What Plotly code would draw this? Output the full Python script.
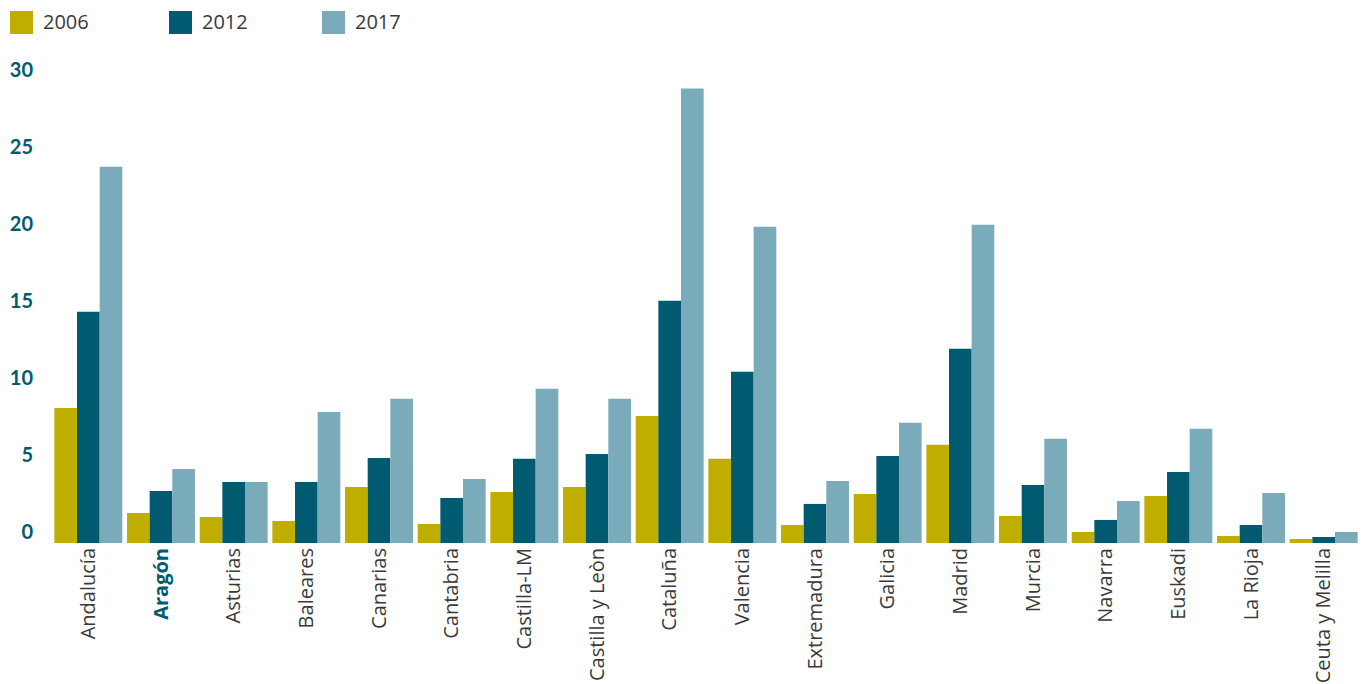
import plotly.graph_objects as go

regions = ["Andalucía", "Aragón", "Asturias", "Baleares", "Canarias", "Cantabria",
           "Castilla-LM", "Castilla y Leòn", "Cataluña", "Valencia", "Extremadura",
           "Galicia", "Madrid", "Murcia", "Navarra", "Euskadi", "La Rioja", "Ceuta y Melilla"]

years = ["2006", "2012", "2017"]

v2006 = [8.78, 1.95, 1.69, 1.43, 3.64, 1.24, 3.32, 3.64, 8.26, 5.47, 1.17, 3.19, 6.38, 1.76, 0.72, 3.06, 0.46, 0.26]
v2012 = [15.03, 3.38, 3.97, 3.97, 5.53, 2.93, 5.47, 5.79, 15.75, 11.13, 2.54, 5.66, 12.62, 3.77, 1.50, 4.62, 1.17, 0.39]
v2017 = [24.46, 4.81, 3.97, 8.52, 9.37, 4.16, 10.02, 9.37, 29.54, 20.56, 4.03, 7.81, 20.69, 6.77, 2.73, 7.42, 3.25, 0.72]

y_ticks = [0, 5, 10, 15, 20, 25, 30]

colors = ["#bfae00", "#005b70", "#7aabba"]
teal = "#005b70"
grey = "#3a3a3a"
FONT = "Lato"
XFONT = "Open Sans"

# page body has an 8px margin, so the figure is drawn 8px lower/right
OFF = 8
W, H = 1368 - OFF, 684 - OFF
ML, MR, MT, MB = 44, 8, 58, 141
PW, PH = W - ML - MR, H - MT - MB

fig = go.Figure()
for name, vals, col in zip(years, [v2006, v2012, v2017], colors):
    fig.add_trace(go.Bar(x=regions, y=vals, name=name, marker=dict(color=col, line=dict(width=0)),
                         showlegend=False))

ticktext = []
for r in regions:
    if r == "Aragón":
        ticktext.append("<b><span style='color:%s'>%s</span></b>" % (teal, r))
    else:
        ticktext.append(r)

fig.update_layout(
    width=W, height=H,
    margin=dict(l=ML, r=MR, t=MT, b=MB, autoexpand=False),
    paper_bgcolor="white", plot_bgcolor="white",
    barmode="group", bargap=0.065, bargroupgap=0,
    font=dict(family=XFONT, size=20, color=grey),
    xaxis=dict(tickmode="array", tickvals=regions, ticktext=ticktext, tickangle=-90,
               showgrid=False, zeroline=False, showline=False, ticks="",
               ticklabelstandoff=0,
               tickfont=dict(family=XFONT, size=20, color=grey)),
    yaxis=dict(range=[0, 31], tickmode="array", tickvals=y_ticks,
               ticktext=["<b>%d</b>" % t for t in y_ticks],
               showgrid=False, zeroline=False, showline=False, ticks="",
               ticklabelstandoff=18, ticklabelshift=-11,
               tickfont=dict(family=FONT, size=20, color=teal)),
)

def px_x(px):
    return (px - OFF - ML) / PW

def px_y(py):
    return (H - MB - (py - OFF)) / PH

leg_x = [10, 169, 322]
for name, col, lx in zip(years, colors, leg_x):
    fig.add_shape(type="rect", xref="paper", yref="paper",
                  x0=px_x(lx), x1=px_x(lx + 23), y0=px_y(34), y1=px_y(11),
                  fillcolor=col, line=dict(width=0))
    fig.add_annotation(xref="paper", yref="paper", x=px_x(lx + 31), y=px_y(21),
                       text=name, showarrow=False, xanchor="left", yanchor="middle",
                       font=dict(family=XFONT, size=20, color=grey))

fig.write_html("out.html")
